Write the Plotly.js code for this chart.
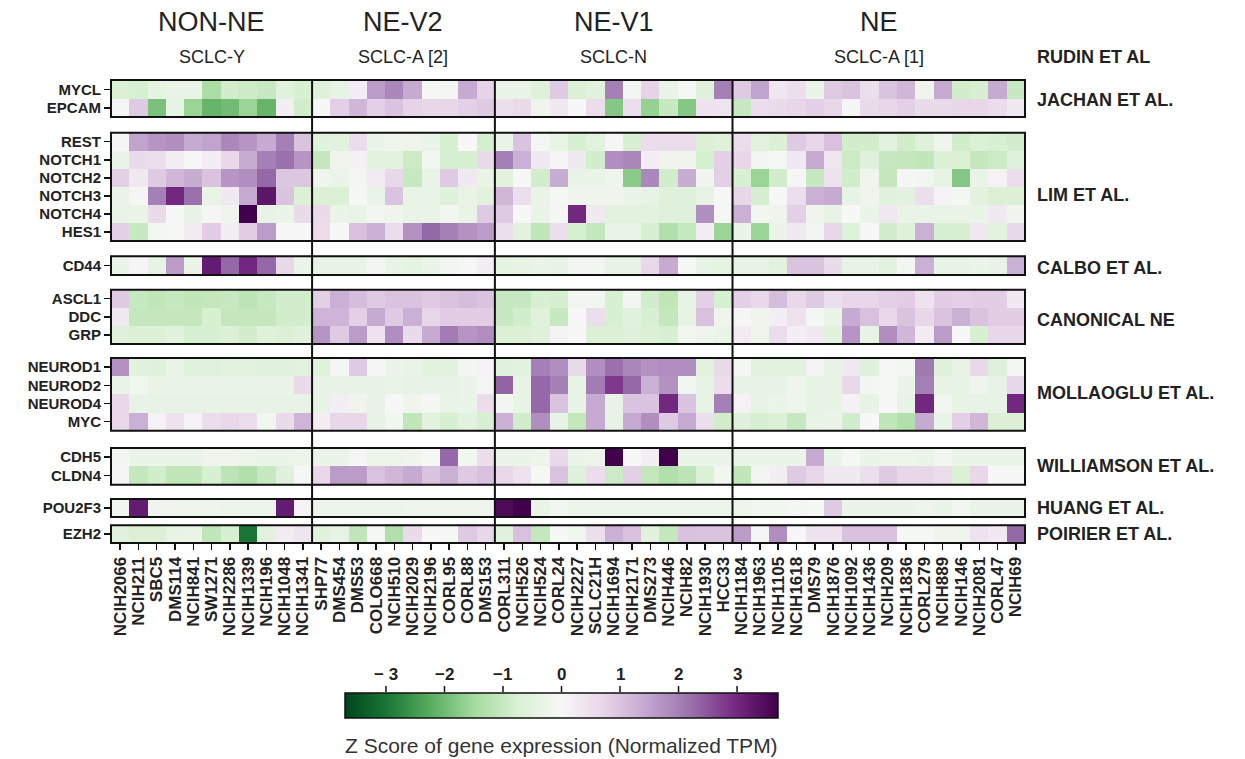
<!DOCTYPE html>
<html>
<head>
<meta charset="utf-8">
<script src="https://cdn.plot.ly/plotly-3.0.1.min.js"></script>
<style>html,body{margin:0;padding:0;background:#fff;}#chart{width:1245px;height:759px;}</style>
</head>
<body>
<div id="chart"></div>
<script>
// ---------------- DATA ----------------
const cellLines = ["NCIH2066","NCIH211","SBC5","DMS114","NCIH841","SW1271","NCIH2286","NCIH1339","NCIH196","NCIH1048","NCIH1341",
  "SHP77","DMS454","DMS53","COLO668","NCIH510","NCIH2029","NCIH2196","CORL95","CORL88","DMS153",
  "CORL311","NCIH526","NCIH524","CORL24","NCIH2227","SCLC21H","NCIH1694","NCIH2171","DMS273","NCIH446","NCIH82","NCIH1930","HCC33",
  "NCIH1184","NCIH1963","NCIH1105","NCIH1618","DMS79","NCIH1876","NCIH1092","NCIH1436","NCIH209","NCIH1836","CORL279","NCIH889","NCIH146","NCIH2081","CORL47","NCIH69"];

const clusterNames = ["NON-NE","NE-V2","NE-V1","NE"];
const clusterSubtypes = ["SCLC-Y","SCLC-A [2]","SCLC-N","SCLC-A [1]"];
const clusterSizes = [11,10,13,16];

const geneGroups = [["MYCL","EPCAM"],["REST","NOTCH1","NOTCH2","NOTCH3","NOTCH4","HES1"],["CD44"],["ASCL1","DDC","GRP"],
  ["NEUROD1","NEUROD2","NEUROD4","MYC"],["CDH5","CLDN4"],["POU2F3"],["EZH2"]];
const groupSources = ["JACHAN ET AL.","LIM ET AL.","CALBO ET AL.","CANONICAL NE","MOLLAOGLU ET AL.","WILLIAMSON ET AL.","HUANG ET AL.","POIRIER ET AL."];

const MYCL = [-0.7,-0.75,-0.45,-0.35,-0.35,-1.4,-0.85,-0.9,-1.0,-0.55,-0.75, -0.6,-0.4,0.2,1.6,1.9,1.4,-0.05,-0.1,1.4,0.75, -0.3,-0.35,-0.6,0.9,-0.7,-0.55,2.0,-0.15,0.75,-0.35,-0.05,-0.6,2.0, 0.9,1.5,0.35,0.5,-0.3,0.9,1.0,0.5,1.0,1.2,-0.2,1.4,-0.85,-0.75,1.4,-1.0];
const EPCAM = [0.05,0.9,-1.9,-0.4,-1.6,-2.1,-2.0,-1.6,-2.1,0.2,-0.85, 0,0.8,1.2,0.8,1.0,0.75,0.7,0.7,0.8,0.9, 0.5,0.6,-0.2,0.3,0,0.55,-1.8,0.5,-1.65,-1.0,-1.8,0.45,0.4, -1.0,0.55,0.6,0.7,0.8,0.7,0.05,0.6,0.7,0.8,0.6,0.6,0.7,0.7,0.55,0.3];
const REST = [0.05,1.5,1.7,1.8,1.4,1.5,1.9,1.7,1.4,2.0,1.0, -0.55,-0.5,0.55,-0.3,-0.2,-0.2,-0.3,-0.75,0,-0.8, -0.3,1.0,-0.1,-0.35,-0.75,-0.5,0.05,-0.75,0.55,0.55,0.55,-0.7,-0.6, 0.55,-0.5,-0.7,0.9,0.7,1.05,-0.85,-0.85,-0.5,-0.85,-0.6,-0.2,-0.85,-0.7,-0.75,-0.85];
const NOTCH1 = [-0.3,0.6,0.5,0.2,0,0.2,0.65,1.35,2.0,2.2,1.7, -1.05,-0.2,0.15,-0.5,-0.5,-0.95,-0.15,-0.75,-0.75,0.6, 2.0,1.3,0.3,0.05,0.3,-0.85,1.8,1.9,0.2,-0.2,-0.2,-0.75,0.8, 0.7,-0.15,-0.05,0.3,1.4,0.35,-0.95,-0.6,-1.0,-1.05,-1.1,-0.7,-0.7,-1.05,-0.95,-0.6];
const NOTCH2 = [0.8,0.3,0.9,1.2,1.35,1.0,1.7,1.8,2.3,0.95,0.95, -0.2,-0.3,-0.1,0.25,0.65,-1.0,-0.35,0.9,0.3,-0.35, -0.5,0,-0.85,1.35,-0.35,-0.35,-0.2,-1.75,1.9,-0.85,1.35,-0.2,0.8, -0.75,-1.6,-0.85,0.05,-1.0,0.45,-0.85,-0.2,-1.05,0.05,-0.15,-0.4,-1.8,-0.35,0.1,0.55];
const NOTCH3 = [-0.35,0.05,2.0,3.0,2.2,-0.35,0.3,1.4,3.3,1.0,-0.7, -0.7,-0.7,-0.05,-0.35,1.0,-0.35,-0.35,-0.6,-0.35,-0.5, 1.2,0.5,-0.35,-0.05,-0.2,-0.2,-0.2,-0.3,-0.4,-0.6,-0.6,-0.4,0, 0.7,-0.8,0,0.5,1.3,1.4,-0.4,-0.2,-0.55,-0.5,0.5,0.1,-0.1,-0.5,-0.7,-0.7];
const NOTCH4 = [-0.35,-0.35,0.6,0,-0.4,0.05,-0.2,3.7,-0.4,-0.3,0.6, 0.6,-0.3,-0.35,-0.15,-0.2,-0.35,-0.35,-0.15,-0.35,0.9, 0.9,0,-0.3,-0.1,3.0,0.3,-0.5,-0.5,-0.5,-0.6,-0.6,1.8,-0.05, 1.3,-0.15,-0.2,0.8,-0.2,-0.4,0,-0.3,0.3,-0.35,-0.35,-0.35,-0.35,-0.3,0.3,-0.2];
const HES1 = [0.8,-1.0,-0.1,-0.05,0.25,0.85,0.2,0.85,1.6,0,0, 0.55,0,1.05,1.3,0.55,1.75,2.3,2.0,1.75,1.6, 0.5,-0.5,-1.1,0.5,-0.75,-1.05,-0.35,-0.35,-0.75,-1.3,-1.0,0.2,-1.6, -0.3,-1.6,-0.3,0.3,-0.15,0.7,-0.6,0,-0.85,-0.6,1.3,-0.75,-0.75,0.3,-0.5,0.65];
const CD44 = [-0.3,0.05,-0.4,1.6,-0.35,3.2,2.3,3.0,2.3,0.65,-0.3, -0.4,-0.4,-0.4,-0.15,-0.4,-0.45,-0.3,-0.15,-0.05,0.2, -0.45,-0.4,-0.35,-0.4,-0.15,-0.15,-0.4,-0.4,0.65,1.4,-0.05,-0.4,-0.45, -0.4,-0.4,-0.5,1.0,1.0,0.6,-0.4,-0.4,-0.5,-0.15,1.3,-0.4,-0.4,-0.3,-0.4,1.3];
const ASCL1 = [0.9,-1.0,-1.1,-1.0,-1.1,-1.05,-1.0,-1.15,-1.0,-0.85,-0.85, 0.8,1.3,1.1,0.9,1.0,1.0,0.9,1.0,1.1,1.0, -1.0,-1.0,-0.75,-0.8,-0.15,-0.15,-0.75,-0.15,-0.85,-1.1,-0.4,0.8,-0.75, 0.8,0.65,1.1,0.65,0.9,0.5,0.7,0.7,0.8,0.85,0.45,0.85,0.8,0.85,0.85,0.3];
const DDC = [0.3,-1.05,-1.05,-1.05,-1.05,-0.75,-1.05,-1.05,-1.05,-0.85,-0.85, 1.25,1.25,0.8,1.4,0.9,1.3,0.7,0.85,0.85,0.85, -1.0,-0.85,-0.55,-1.0,0,0.5,-0.75,-0.55,-0.75,-1.05,-0.4,1.05,-0.2, 0.05,-0.2,0.2,0.45,-0.1,-0.3,1.4,1.05,0.65,1.0,0.7,1.0,1.3,1.0,0.85,0.85];
const GRP = [-0.6,-0.7,-0.7,-0.55,-0.75,-0.75,-0.7,-0.85,-0.6,-0.7,-0.6, 1.7,0.9,1.6,0.45,1.8,0.6,1.4,2.05,1.7,1.8, -0.7,-0.7,-0.6,0.1,0,-0.7,-0.7,-0.6,-0.7,-0.75,-0.15,-0.2,-0.3, 0.25,-0.2,0.55,0.2,0.3,-0.55,1.7,-0.4,1.8,1.2,0.25,1.6,0,-0.75,0.7,0.7];
const NEUROD1 = [1.75,-0.55,-0.6,-0.3,-0.55,-0.55,-0.5,-0.5,-0.55,-0.55,-0.5, -0.55,-0.1,0.9,0.05,-0.3,-0.35,-0.5,-0.5,-0.15,0.1, -0.55,-0.5,2.0,1.8,0.6,1.8,2.2,1.9,1.75,1.8,1.8,-0.5,0.6, -0.1,-0.5,-0.5,-0.5,0.1,-0.4,0.3,-0.6,0,-0.1,2.1,-0.6,-0.4,0.65,-0.6,-0.1];
const NEUROD2 = [-0.35,-0.15,-0.35,-0.3,-0.35,-0.35,-0.35,-0.35,-0.35,-0.35,0.6, -0.4,-0.4,-0.4,-0.4,-0.35,-0.4,-0.4,-0.4,-0.3,0.05, 2.35,-0.4,2.3,2.0,-0.4,2.05,2.8,2.3,1.3,1.75,-0.15,-0.4,0.55, -0.4,-0.4,-0.4,-0.2,-0.4,-0.4,0.65,-0.15,-0.05,-0.3,2.0,-0.4,-0.4,-0.2,-0.4,0.7];
const NEUROD4 = [0.65,-0.4,-0.4,-0.4,-0.4,-0.4,-0.4,-0.4,-0.4,-0.4,-0.4, -0.4,0.2,-0.2,-0.4,0,-0.2,0.05,-0.35,-0.3,0.55, -0.15,-0.4,2.3,1.0,-0.4,1.4,-0.4,1.0,1.0,3.0,1.0,-0.4,2.0, 0.1,-0.4,-0.3,-0.2,-0.4,-0.4,0.15,-0.4,0,-0.4,3.0,-0.15,-0.4,-0.4,-0.4,3.0];
const MYC = [0.65,1.3,0.1,0.45,0.1,0.55,0.65,0.55,-0.15,0.6,1.25, 0.2,0.7,0.7,-0.4,-0.15,-1.1,-0.5,-0.75,-0.5,-0.75, 1.3,-0.85,1.8,-0.4,-1.05,1.4,-0.4,1.4,1.8,0.9,1.4,0.5,-0.85, -0.6,-0.75,-0.7,-1.0,-0.35,-0.3,-0.85,0,-1.1,-1.3,1.4,-0.3,0.8,1.2,-0.7,-0.7];
const CDH5 = [-0.15,-0.3,-0.3,-0.3,-0.3,-0.2,-0.2,-0.25,-0.3,-0.3,-0.25, -0.3,-0.3,0.05,-0.25,-0.25,-0.2,-0.05,2.3,-0.15,0.55, -0.3,-0.3,-0.25,0.65,-0.3,-0.25,3.7,0,0.2,3.7,-0.3,-0.3,-0.3, -0.3,-0.3,-0.3,-0.3,1.4,-0.3,-0.05,-0.3,-0.25,-0.25,-0.3,-0.15,-0.3,-0.3,-0.3,-0.3];
const CLDN4 = [0.05,-1.05,-0.85,-1.1,-1.1,-0.75,-1.15,-1.3,-1.0,-0.6,-0.05, 0.65,1.6,1.6,1.0,1.2,1.4,1.0,1.3,0.9,1.05, 0.65,0.45,-0.05,1.0,-0.6,0.55,-0.95,0.8,-1.05,-1.3,-1.15,-0.7,-0.15, -1.1,-0.15,0.2,0.9,0.7,0.3,0.3,0.5,0.9,0.7,0.7,0.55,-0.7,0.65,0,0];
const POU2F3 = [-0.15,3.2,-0.2,-0.2,-0.2,-0.2,-0.25,-0.25,-0.25,3.2,0.1, -0.25,-0.25,-0.25,-0.25,-0.25,-0.2,-0.2,-0.2,-0.2,-0.2, 3.5,3.7,-0.3,-0.15,-0.25,-0.25,-0.25,-0.25,-0.25,-0.25,-0.25,-0.25,-0.25, -0.2,-0.15,-0.15,-0.1,-0.05,0.9,-0.3,-0.3,-0.3,-0.3,-0.2,-0.3,-0.15,-0.3,-0.3,-0.3];
const EZH2 = [-0.55,-0.7,-0.7,-0.4,-0.35,-1.1,-0.75,-3.0,-0.5,0.25,0.4, -0.55,-0.4,-1.1,-0.05,-1.3,0.6,0,-0.05,0.9,0.7, -0.55,1.05,-1.05,0,-0.15,0.5,1.3,1.05,-0.55,-1.05,1.05,1.0,1.0, 1.6,0.05,1.8,0,0.45,0.45,1.05,1.05,1.05,-0.05,-0.05,-0.2,-0.2,0.45,0.3,2.3];

const geneValues = {MYCL,EPCAM,REST,NOTCH1,NOTCH2,NOTCH3,NOTCH4,HES1,CD44,ASCL1,DDC,GRP,NEUROD1,NEUROD2,NEUROD4,MYC,CDH5,CLDN4,POU2F3,EZH2};

const colorTicks = [-3,-2,-1,0,1,2,3];
const colorTickText = ["\u2212 3","\u22122","\u22121","0","1","2","3"];
const colorTitle = "Z Score of gene expression (Normalized TPM)";

// ---------------- STYLE ----------------
const FONT = "Liberation Sans, Arial, Helvetica, sans-serif";
const TXT = "#222";
const zLim = 3.7;
const prgn = [[0,"#00441b"],[0.1,"#1b7837"],[0.2,"#5aae61"],[0.3,"#a6dba0"],[0.4,"#d9f0d3"],[0.5,"#f7f7f7"],
  [0.6,"#e7d4e8"],[0.7,"#c2a5cf"],[0.8,"#9970ab"],[0.9,"#762a83"],[1,"#40004b"]];

// panel vertical domains (paper fraction)
const domains = [[0.9201,1.0],[0.6523,0.8862],[0.5788,0.6192],[0.4298,0.5471],[0.2425,0.3996],[0.1259,0.2052],[0.0562,0.0950],[0.0,0.0382]];
const sourceY = [0.9568,0.7516,0.594,0.4816,0.324,0.1663,0.0762,0.0194];

// colorbar geometry (paper units)
const cbX = 0.4929, cbLenPx = 433, plotWpx = 914;
const cbHalf = (cbLenPx/plotWpx)/2;
const cbBarY = -0.3250, cbTopY = -0.3218, cbTickTopY = -0.3089, cbLabelY = -0.2830, cbTitleY = -0.4363;

const traces = [];
const layout = {
  width:1245, height:759,
  margin:{l:111, r:220, t:80, b:216},
  paper_bgcolor:"#fff", plot_bgcolor:"#fff",
  font:{family:FONT, color:TXT},
  showlegend:false,
  xaxis:{type:"category", anchor:"y8", range:[-0.5, cellLines.length-0.5], tickangle:-90,
    tickmode:"linear", tick0:0, dtick:1,
    ticks:"outside", ticklen:6, tickwidth:1.5, tickcolor:"#111", showgrid:false, zeroline:false, showline:false,
    tickfont:{family:FONT, size:17, weight:"bold", color:TXT}, fixedrange:true},
  shapes:[], annotations:[]
};

geneGroups.forEach((genes, gi) => {
  const yName = gi === 0 ? "y" : "y" + (gi+1);
  const axKey = gi === 0 ? "yaxis" : "yaxis" + (gi+1);
  const tr = {
    type:"heatmap", x:cellLines, y:genes, z:genes.map(g => geneValues[g]),
    xaxis:"x", yaxis:yName, colorscale:prgn, zmin:-zLim, zmax:zLim,
    showscale: gi === 0, hoverinfo:"x+y+z"
  };
  if (gi === 0) {
    tr.colorbar = {
      orientation:"h", x:cbX, xanchor:"center", y:cbBarY, yanchor:"top", ypad:0, xpad:0,
      lenmode:"pixels", len:cbLenPx, thicknessmode:"pixels", thickness:25,
      outlinewidth:1.5, outlinecolor:"#111",
      tickmode:"array", tickvals:colorTicks, ticktext:colorTicks.map(() => " "), ticks:"",
      tickfont:{family:FONT, size:4, color:"rgba(0,0,0,0)"},
      title:{text:"", side:"bottom"}
    };
  }
  traces.push(tr);
  layout[axKey] = {
    domain:domains[gi], anchor:"x", type:"category", range:[genes.length-0.5, -0.5],
    tickmode:"linear", tick0:0, dtick:1,
    ticks:"outside", ticklen:6, tickwidth:1.5, tickcolor:"#111", showgrid:false, zeroline:false, showline:false,
    tickfont:{family:FONT, size:15, weight:"bold", color:TXT}, fixedrange:true
  };
  layout.shapes.push({type:"rect", xref:"paper", yref:"paper", x0:0, x1:1, y0:domains[gi][0], y1:domains[gi][1],
    line:{color:"#111", width:2}, fillcolor:"rgba(0,0,0,0)", layer:"above"});
  layout.annotations.push({xref:"paper", yref:"paper", x:1.011, y:sourceY[gi], xanchor:"left", yanchor:"middle",
    text:groupSources[gi], showarrow:false, font:{family:FONT, size:18, weight:"bold", color:TXT}});
});

// colorbar tick marks, labels (above the bar) and title (below)
colorTicks.forEach((v, i) => {
  const px = cbX + (v/zLim)*cbHalf;
  layout.shapes.push({type:"line", xref:"paper", yref:"paper", x0:px, x1:px, y0:cbTopY, y1:cbTickTopY,
    line:{color:"#111", width:1.5}});
  layout.annotations.push({xref:"paper", yref:"paper", x:px, y:cbLabelY, xanchor:"center", yanchor:"middle",
    text:colorTickText[i], showarrow:false, font:{family:FONT, size:17, weight:"bold", color:TXT}});
});
layout.annotations.push({xref:"paper", yref:"paper", x:cbX, y:cbTitleY, xanchor:"center", yanchor:"middle",
  text:colorTitle, showarrow:false, font:{family:FONT, size:21, color:"#333"}});

// cluster dividers and titles
let start = 0;
clusterSizes.forEach((n, ci) => {
  const center = start + (n-1)/2;
  layout.annotations.push({xref:"x", yref:"paper", x:center, y:1.1253, xanchor:"center", yanchor:"middle",
    text:clusterNames[ci], showarrow:false, font:{family:FONT, size:27, color:TXT}});
  layout.annotations.push({xref:"x", yref:"paper", x:center, y:1.0497, xanchor:"center", yanchor:"middle",
    text:clusterSubtypes[ci], showarrow:false, font:{family:FONT, size:18, color:TXT}});
  start += n;
  if (ci < clusterSizes.length-1) {
    layout.shapes.push({type:"line", xref:"x", yref:"paper", x0:start-0.5, x1:start-0.5, y0:0, y1:1,
      line:{color:"#111", width:2}, layer:"above"});
  }
});
layout.annotations.push({xref:"paper", yref:"paper", x:1.011, y:1.0497, xanchor:"left", yanchor:"middle",
  text:"RUDIN ET AL", showarrow:false, font:{family:FONT, size:18, weight:"bold", color:TXT}});

Plotly.newPlot("chart", traces, layout, {displayModeBar:false, staticPlot:true});
</script>
</body>
</html>
